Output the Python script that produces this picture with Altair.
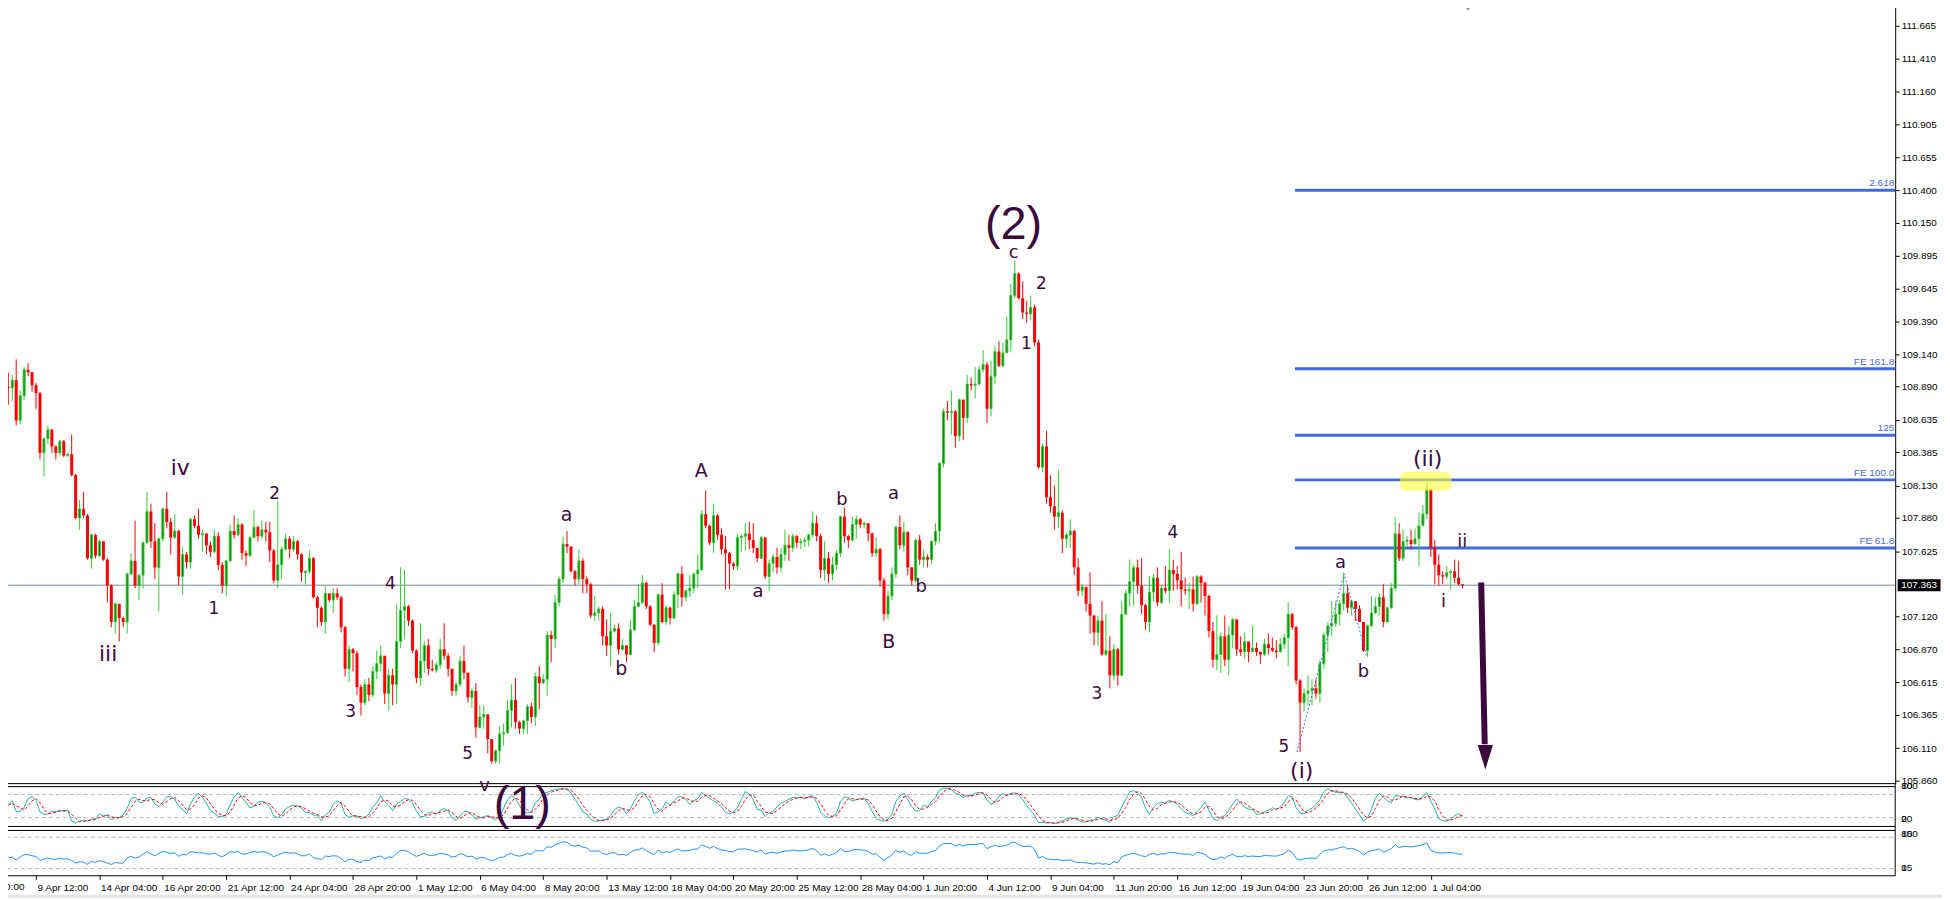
import altair as alt
import numpy as np
import pandas as pd

# ---------------- data (H4 candles) ----------------
OPEN0 = 108.89
CLOSE = [
    108.88, 108.94, 108.63, 108.82, 109.02, 109.00, 108.90, 108.84, 108.38, 108.49,
    108.56, 108.43, 108.38, 108.47, 108.36, 108.37, 108.21, 107.88, 107.95, 107.90,
    107.57, 107.75, 107.59, 107.70, 107.56, 107.36, 107.08, 107.22, 107.11, 107.08,
    107.45, 107.55, 107.36, 107.44, 107.69, 107.93, 107.70, 107.50, 107.72, 107.95,
    107.85, 107.73, 107.78, 107.43, 107.60, 107.54, 107.87, 107.82, 107.75, 107.76,
    107.67, 107.62, 107.74, 107.52, 107.36, 107.55, 107.78, 107.75, 107.83, 107.61,
    107.59, 107.73, 107.81, 107.74, 107.79, 107.77, 107.63, 107.40, 107.52, 107.64,
    107.72, 107.64, 107.70, 107.60, 107.46, 107.47, 107.57, 107.27, 107.19, 107.08,
    107.30, 107.25, 107.30, 107.27, 107.04, 106.72, 106.87, 106.84, 106.58, 106.46,
    106.60, 106.52, 106.70, 106.76, 106.82, 106.53, 106.67, 106.60, 106.93, 107.17,
    107.20, 107.09, 106.86, 106.65, 106.78, 106.90, 106.72, 106.71, 106.75, 106.87,
    106.82, 106.72, 106.55, 106.60, 106.78, 106.69, 106.50, 106.55, 106.27, 106.35,
    106.37, 106.18, 106.01, 106.09, 106.22, 106.23, 106.40, 106.48, 106.31, 106.26,
    106.32, 106.43, 106.35, 106.66, 106.61, 106.64, 106.98, 106.95, 107.23, 107.41,
    107.68, 107.66, 107.47, 107.41, 107.55, 107.41, 107.37, 107.13, 107.15, 107.18,
    106.97, 106.90, 107.01, 107.03, 106.87, 106.90, 106.83, 107.02, 107.20, 107.23,
    107.38, 107.20, 107.06, 106.92, 107.29, 107.08, 107.19, 107.11, 107.29, 107.45,
    107.27, 107.32, 107.34, 107.45, 107.48, 107.91, 107.82, 107.69, 107.90, 107.75,
    107.64, 107.61, 107.53, 107.51, 107.73, 107.74, 107.76, 107.71, 107.65, 107.57,
    107.73, 107.43, 107.53, 107.58, 107.50, 107.60, 107.67, 107.65, 107.74, 107.69,
    107.70, 107.71, 107.75, 107.84, 107.74, 107.48, 107.57, 107.45, 107.52, 107.61,
    107.89, 107.74, 107.71, 107.83, 107.87, 107.83, 107.84, 107.76, 107.61, 107.64,
    107.40, 107.14, 107.28, 107.45, 107.81, 107.67, 107.77, 107.50, 107.40, 107.71,
    107.56, 107.58, 107.56, 107.70, 107.78, 108.30, 108.70, 108.69, 108.70, 108.51,
    108.79, 108.65, 108.91, 108.90, 108.91, 109.02, 109.06, 108.72, 108.97, 109.16,
    109.05, 109.15, 109.25, 109.59, 109.76, 109.57, 109.46, 109.45, 109.50, 109.23,
    108.27, 108.43, 108.04, 107.97, 107.89, 107.92, 107.72, 107.75, 107.78, 107.50,
    107.32, 107.35, 107.22, 107.13, 107.00, 107.09, 106.83, 106.86, 106.67, 106.87,
    106.67, 107.14, 107.30, 107.39, 107.50, 107.36, 107.21, 107.08, 107.31, 107.42,
    107.23, 107.34, 107.32, 107.48, 107.45, 107.40, 107.33, 107.32, 107.33, 107.22,
    107.43, 107.38, 107.28, 107.01, 106.79, 106.83, 106.97, 106.79, 106.98, 107.10,
    106.87, 106.85, 106.93, 106.85, 106.88, 106.85, 106.83, 106.91, 106.88, 106.86,
    106.85, 106.91, 106.96, 107.14, 107.04, 106.63, 106.46, 106.53, 106.55, 106.57,
    106.53, 106.76, 106.98, 107.05, 107.07, 107.14, 107.22, 107.30, 107.19, 107.24,
    107.18, 107.08, 106.86, 107.05, 107.15, 107.20, 107.27, 107.08, 107.19, 107.34,
    107.76, 107.57, 107.70, 107.71, 107.68, 107.72, 107.82, 107.91, 108.10, 107.65,
    107.52, 107.44, 107.43, 107.46, 107.47, 107.42, 107.37, 107.36,
]
HIGH = [
    109.00, 108.98, 109.10, 108.86, 109.04, 109.07, 109.00, 108.92, 108.85, 108.50,
    108.59, 108.56, 108.44, 108.48, 108.48, 108.38, 108.52, 108.22, 108.02, 108.08,
    107.91, 107.76, 107.76, 107.71, 107.70, 107.57, 107.37, 107.23, 107.22, 107.12,
    107.46, 107.61, 107.86, 107.45, 107.70, 108.08, 107.99, 107.84, 107.73, 107.96,
    108.08, 107.88, 107.91, 107.79, 107.66, 107.62, 107.88, 107.90, 107.95, 107.79,
    107.75, 107.70, 107.79, 107.77, 107.54, 107.56, 107.83, 107.90, 107.88, 107.84,
    107.63, 107.74, 107.94, 107.82, 107.86, 107.85, 107.85, 107.64, 108.01, 107.66,
    107.76, 107.74, 107.74, 107.71, 107.61, 107.48, 107.63, 107.58, 107.28, 107.20,
    107.36, 107.30, 107.34, 107.34, 107.28, 107.05, 106.90, 106.88, 106.86, 106.60,
    106.64, 106.65, 106.74, 106.86, 106.90, 106.82, 106.72, 106.72, 107.22, 107.50,
    107.48, 107.21, 107.10, 106.87, 107.07, 106.93, 106.95, 106.79, 106.77, 106.95,
    107.07, 106.84, 106.72, 106.62, 106.82, 106.90, 106.69, 106.57, 106.61, 106.44,
    106.44, 106.37, 106.18, 106.10, 106.28, 106.30, 106.48, 106.60, 106.65, 106.32,
    106.33, 106.45, 106.46, 106.69, 106.74, 106.68, 107.01, 107.01, 107.29, 107.43,
    107.74, 107.78, 107.62, 107.48, 107.64, 107.57, 107.43, 107.38, 107.28, 107.20,
    107.20, 107.10, 107.15, 107.06, 107.07, 106.95, 106.90, 107.10, 107.25, 107.37,
    107.44, 107.39, 107.21, 107.06, 107.30, 107.38, 107.21, 107.20, 107.32, 107.46,
    107.51, 107.33, 107.44, 107.46, 107.60, 107.94, 108.09, 107.83, 107.99, 107.91,
    107.80, 107.74, 107.62, 107.54, 107.76, 107.75, 107.84, 107.85, 107.84, 107.65,
    107.74, 107.73, 107.56, 107.60, 107.65, 107.65, 107.79, 107.75, 107.76, 107.75,
    107.72, 107.73, 107.76, 107.93, 107.90, 107.76, 107.70, 107.62, 107.58, 107.63,
    107.90, 107.96, 107.75, 107.89, 107.90, 107.88, 107.85, 107.82, 107.77, 107.73,
    107.65, 107.42, 107.32, 107.50, 107.82, 107.90, 107.85, 107.78, 107.50, 107.72,
    107.75, 107.64, 107.60, 107.71, 107.84, 108.31, 108.72, 108.78, 108.86, 108.71,
    108.80, 108.79, 108.98, 108.96, 109.04, 109.05, 109.17, 109.08, 109.09, 109.20,
    109.24, 109.23, 109.43, 109.68, 109.86, 109.77, 109.70, 109.55, 109.59, 109.52,
    109.25, 108.45, 108.55, 108.21, 108.13, 108.25, 107.94, 107.77, 107.87, 107.79,
    107.57, 107.37, 107.34, 107.46, 107.09, 107.13, 107.24, 107.14, 106.97, 106.91,
    106.88, 107.24, 107.33, 107.56, 107.52, 107.56, 107.57, 107.22, 107.43, 107.45,
    107.50, 107.36, 107.51, 107.64, 107.56, 107.51, 107.62, 107.42, 107.38, 107.43,
    107.44, 107.44, 107.39, 107.29, 107.08, 107.13, 107.00, 107.13, 107.05, 107.11,
    107.05, 106.97, 107.00, 106.93, 107.05, 106.92, 106.85, 106.95, 106.99, 106.96,
    106.94, 106.96, 106.99, 107.23, 107.15, 107.05, 106.64, 106.57, 106.67, 106.64,
    106.64, 106.79, 107.00, 107.08, 107.24, 107.24, 107.25, 107.46, 107.36, 107.25,
    107.22, 107.21, 107.08, 107.06, 107.28, 107.27, 107.30, 107.37, 107.20, 107.38,
    107.89, 107.84, 107.79, 107.74, 107.79, 107.80, 107.92, 107.98, 108.17, 108.10,
    107.71, 107.60, 107.47, 107.51, 107.48, 107.56, 107.55, 107.37,
]
LOW = [
    108.75, 108.78, 108.59, 108.60, 108.79, 108.97, 108.85, 108.72, 108.33, 108.20,
    108.45, 108.38, 108.33, 108.36, 108.35, 108.35, 108.20, 107.87, 107.79, 107.88,
    107.56, 107.49, 107.57, 107.58, 107.55, 107.23, 107.04, 106.99, 106.93, 107.04,
    106.99, 107.44, 107.34, 107.25, 107.34, 107.68, 107.65, 107.41, 107.16, 107.70,
    107.80, 107.60, 107.72, 107.36, 107.29, 107.49, 107.49, 107.80, 107.72, 107.62,
    107.60, 107.58, 107.61, 107.48, 107.30, 107.28, 107.54, 107.72, 107.74, 107.56,
    107.51, 107.58, 107.72, 107.70, 107.72, 107.70, 107.54, 107.38, 107.34, 107.41,
    107.63, 107.57, 107.62, 107.56, 107.39, 107.37, 107.45, 107.26, 107.04, 107.05,
    106.99, 107.23, 107.15, 107.25, 107.00, 106.66, 106.62, 106.70, 106.52, 106.36,
    106.44, 106.47, 106.50, 106.64, 106.70, 106.45, 106.40, 106.44, 106.45, 106.88,
    106.95, 107.05, 106.84, 106.61, 106.59, 106.69, 106.67, 106.70, 106.69, 106.72,
    106.79, 106.66, 106.51, 106.51, 106.58, 106.64, 106.46, 106.42, 106.19, 106.26,
    106.26, 106.07, 105.99, 105.99, 105.99, 106.13, 106.22, 106.27, 106.26, 106.22,
    106.22, 106.22, 106.30, 106.28, 106.41, 106.61, 106.51, 106.77, 106.88, 107.20,
    107.38, 107.61, 107.46, 107.36, 107.37, 107.30, 107.30, 107.11, 107.09, 107.09,
    106.90, 106.82, 106.74, 107.00, 106.83, 106.86, 106.77, 106.84, 107.01, 107.20,
    107.22, 107.18, 107.05, 106.85, 106.90, 107.07, 107.06, 107.06, 107.10, 107.19,
    107.20, 107.24, 107.27, 107.30, 107.34, 107.47, 107.80, 107.67, 107.61, 107.71,
    107.60, 107.33, 107.33, 107.48, 107.48, 107.62, 107.63, 107.64, 107.61, 107.54,
    107.59, 107.41, 107.32, 107.46, 107.45, 107.46, 107.55, 107.55, 107.62, 107.65,
    107.64, 107.66, 107.66, 107.73, 107.70, 107.42, 107.40, 107.38, 107.40, 107.48,
    107.58, 107.69, 107.65, 107.70, 107.72, 107.80, 107.80, 107.70, 107.58, 107.58,
    107.35, 107.09, 107.10, 107.25, 107.42, 107.64, 107.62, 107.44, 107.36, 107.38,
    107.52, 107.50, 107.50, 107.52, 107.67, 107.69, 108.27, 108.63, 108.52, 108.42,
    108.47, 108.48, 108.61, 108.86, 108.80, 108.90, 109.00, 108.61, 108.66, 108.91,
    109.04, 109.04, 109.15, 109.16, 109.57, 109.56, 109.41, 109.38, 109.40, 109.20,
    108.26, 108.23, 107.99, 107.92, 107.79, 107.80, 107.61, 107.65, 107.65, 107.44,
    107.28, 107.28, 107.16, 106.99, 106.90, 106.90, 106.82, 106.82, 106.57, 106.63,
    106.59, 106.67, 107.14, 107.20, 107.21, 107.30, 107.14, 107.02, 107.00, 107.24,
    107.20, 107.22, 107.30, 107.23, 107.32, 107.33, 107.20, 107.29, 107.18, 107.16,
    107.21, 107.23, 107.13, 106.96, 106.73, 106.71, 106.69, 106.74, 106.67, 106.88,
    106.82, 106.82, 106.80, 106.77, 106.85, 106.82, 106.76, 106.82, 106.83, 106.85,
    106.80, 106.85, 106.87, 106.74, 107.02, 106.60, 106.08, 106.39, 106.44, 106.44,
    106.49, 106.46, 106.72, 106.85, 106.97, 107.04, 107.05, 107.17, 107.15, 107.13,
    107.09, 107.08, 106.85, 106.81, 107.04, 107.14, 107.13, 107.04, 107.08, 107.18,
    107.32, 107.55, 107.55, 107.65, 107.64, 107.68, 107.51, 107.82, 107.87, 107.58,
    107.37, 107.36, 107.37, 107.41, 107.33, 107.38, 107.36, 107.34,
]

TIME_LABELS = ["9 Apr 12:00", "14 Apr 04:00", "16 Apr 20:00", "21 Apr 12:00", "24 Apr 04:00",
               "28 Apr 20:00", "1 May 12:00", "6 May 04:00", "8 May 20:00", "13 May 12:00",
               "18 May 04:00", "20 May 20:00", "25 May 12:00", "28 May 04:00", "1 Jun 20:00",
               "4 Jun 12:00", "9 Jun 04:00", "11 Jun 20:00", "16 Jun 12:00", "19 Jun 04:00",
               "23 Jun 20:00", "26 Jun 12:00", "1 Jul 04:00"]
LEAD_LABEL = "4 Apr 20:00"
FIRST_LABEL_BAR = 7
LABEL_STEP = 16

PRICE_TICKS = [111.665, 111.410, 111.160, 110.905, 110.655, 110.400, 110.150, 109.895,
               109.645, 109.390, 109.140, 108.890, 108.635, 108.385, 108.130, 107.880,
               107.625, 107.120, 106.870, 106.615, 106.365, 106.110, 105.860]
LAST_PRICE = 107.363

FIB_VALUES = [110.401, 109.028, 108.517, 108.173, 107.650]
FIB_NAMES = ["2.618", "FE 161.8", "125", "FE 100.0", "FE 61.8"]
FIB_START_BAR = 324.7

SMALL_TEXT = ["iii", "iv", "1", "2", "4", "3", "5", "v", "a", "b", "A", "a", "b", "a", "B", "b",
              "c", "2", "1", "3", "4", "5", "(i)", "a", "b", "(ii)", "ii", "i"]
SMALL_BAR = [25.2, 43.4, 51.9, 67.2, 96.4, 86.4, 115.9, 120.2, 140.9, 154.7, 174.9, 189.2,
             210.4, 223.4, 222.2, 230.4, 253.7, 260.7, 256.9, 274.7, 293.9, 321.9, 326.4,
             336.2, 342.0, 358.2, 366.9, 362.2]
SMALL_PRICE = [106.833, 108.265, 107.178, 108.066, 107.369, 106.389, 106.067, 105.822,
               107.905, 106.718, 108.242, 107.308, 108.020, 108.066, 106.925, 107.346,
               109.919, 109.682, 109.215, 106.527, 107.767, 106.121, 105.937, 107.537,
               106.695, 108.334, 107.698, 107.231]
SMALL_SIZE = [22, 22, 17, 17, 17, 17, 17, 18, 19, 19, 19, 18, 18, 18, 19, 18, 18, 17, 17,
              17, 17, 17, 22, 18, 18, 22, 18, 18]
BIG_TEXT = ["(1)", "(2)"]
BIG_BAR = [129.7, 253.7]
BIG_PRICE = [105.676, 110.134]

DOTTED_BAR = [325.2, 337.1, 342.9]
DOTTED_PRICE = [106.08, 107.45, 106.81]
HILITE_BAR = [351.2, 364.2]
HILITE_PRICE = [108.089, 108.234]
ARROW_BAR = [371.7, 372.6]
ARROW_PRICE = [107.384, 106.14]
ARROW_HEAD_BAR = 372.75
ARROW_HEAD_PRICE = 106.04

STOCH_LEVELS = [80, 20]
LOWER_LEVELS = [85, 15]

# ---------------- styling / layout ----------------
W, H = 1903, 877
MAIN_BOTTOM = 785
P_TOP, P_BOT = 111.849, 105.837
GREEN, GREEN_DARK, RED = "#32cd32", "#0e7a0e", "#ff0000"
PURPLE = "#3b0b3d"
BLUE = "#4169e1"
FONT_AX = "Liberation Sans"

n = len(CLOSE)
OPEN = [OPEN0] + CLOSE[:-1]
o = np.array(OPEN, float)
c = np.array(CLOSE, float)
h = np.maximum(np.array(HIGH, float), np.maximum(o, c))
l = np.minimum(np.array(LOW, float), np.minimum(o, c))
top = np.maximum(o, c)
bot = np.minimum(o, c)
top = np.where(top - bot < 0.009, bot + 0.009, top)
candles = pd.DataFrame(dict(i=np.arange(n), open=o, close=c, high=h, low=l, top=top, bot=bot,
                            dir=np.where(c >= o, "up", "down")))

# Stochastic (5,3,3) and RSI(14) derived from the candles
K = []
for t in range(n):
    num = den = 0.0
    for s in range(max(0, t - 2), t + 1):
        lo = l[max(0, s - 4):s + 1].min()
        hi = h[max(0, s - 4):s + 1].max()
        num += c[s] - lo
        den += hi - lo
    K.append(100 * num / den if den > 0 else 50)
D = [float(np.mean(K[max(0, t - 2):t + 1])) for t in range(n)]
diff = np.diff(c, prepend=OPEN0)
gains = np.clip(diff, 0, None)
losses = np.clip(-diff, 0, None)
ag = float(gains[:14].mean())
al = float(losses[:14].mean())
RSI = []
for t in range(n):
    ag = (ag * 13 + gains[t]) / 14
    al = (al * 13 + losses[t]) / 14
    RSI.append(100 - 100 / (1 + ag / al) if al > 0 else 100)
ind = pd.DataFrame(dict(i=np.arange(n), k=K, d=D, rsi=RSI))

# ---------------- scales & axes ----------------
xs = alt.Scale(domain=[-0.825, 474.925], nice=False, zero=False)
ys = alt.Scale(domain=[P_BOT, P_TOP], range=[MAIN_BOTTOM, 0], nice=False, zero=False)
ysto = alt.Scale(domain=[0, 100], range=[826.7, 788.3], nice=False, zero=False)
ylow = alt.Scale(domain=[0, 100], range=[877, 832], nice=False, zero=False)

tick_bars = [FIRST_LABEL_BAR + LABEL_STEP * j for j in range(len(TIME_LABELS))]
labels_js = "[" + ",".join("'%s'" % s for s in TIME_LABELS) + "]"
xaxis = alt.Axis(orient="bottom", values=tick_bars,
                 labelExpr="%s[round((datum.value-%d)/%d)]" % (labels_js, FIRST_LABEL_BAR, LABEL_STEP),
                 labelAlign="left", labelBaseline="top", labelPadding=3, labelOffset=1,
                 labelFont=FONT_AX, labelFontSize=10, labelColor="#000000",
                 tickColor="#000000", tickSize=4, domainColor="#000000", grid=False,
                 title=None, labelOverlap=False, labelFlush=False)
yaxis = alt.Axis(orient="right", values=PRICE_TICKS, format=".3f", labelFont=FONT_AX,
                 labelFontSize=10, labelColor="#000000", labelPadding=2, tickColor="#000000",
                 tickSize=4, domainColor="#000000", grid=False, title=None,
                 labelOverlap=False, labelFlush=False)


def X(field):
    return alt.X(field + ":Q", scale=xs, axis=xaxis, title=None)


def YM(field, axis=None):
    return alt.Y(field + ":Q", scale=ys, axis=axis, title=None)


one = pd.DataFrame({"a": [0]})
layers = []

# frames
for yv in [4, MAIN_BOTTOM, MAIN_BOTTOM + 3, 828, 832]:
    layers.append(alt.Chart(one).mark_rule(color="#000000", strokeWidth=1).encode(
        x=alt.value(0), x2=alt.value(W), y=alt.value(yv)))
layers.append(alt.Chart(one).mark_rule(color="#000000", strokeWidth=1).encode(
    x=alt.value(W), y=alt.value(MAIN_BOTTOM), y2=alt.value(H)))
layers.append(alt.Chart(one).mark_rule(color="#e4e4e4", strokeWidth=3).encode(
    x=alt.value(0), x2=alt.value(W + 60), y=alt.value(H + 21)))

# fib lines + labels
fib = pd.DataFrame(dict(v=FIB_VALUES, name=FIB_NAMES, i=[FIB_START_BAR] * len(FIB_VALUES)))
layers.append(alt.Chart(fib).mark_rule(color=BLUE, strokeWidth=3).encode(
    x=X("i"), x2=alt.value(W), y=YM("v")))
layers.append(alt.Chart(fib).mark_text(align="right", baseline="bottom", dy=-2, font=FONT_AX,
                                       fontSize=10, color=BLUE).encode(
    x=alt.value(W - 1), y=YM("v"), text="name:N"))

# last price line
lp = pd.DataFrame(dict(v=[LAST_PRICE], t=["%.3f" % LAST_PRICE]))
layers.append(alt.Chart(lp).mark_rule(color="#7a8a9a", strokeWidth=1).encode(
    x=alt.value(0), x2=alt.value(W), y=YM("v")))

# candles
layers.append(alt.Chart(candles).mark_rule(strokeWidth=1).encode(
    x=X("i"), y=YM("low", yaxis), y2="high:Q",
    color=alt.Color("dir:N", scale=alt.Scale(domain=["up", "down"], range=[GREEN, RED]), legend=None)))
layers.append(alt.Chart(candles).transform_filter("datum.dir == 'up'").mark_bar(
    size=2, fill=GREEN_DARK, stroke=GREEN, strokeWidth=1).encode(
    x=X("i"), y=YM("bot"), y2="top:Q"))
layers.append(alt.Chart(candles).transform_filter("datum.dir == 'down'").mark_bar(
    size=3, color=RED).encode(x=X("i"), y=YM("bot"), y2="top:Q"))

# dotted wave line
dot = pd.DataFrame(dict(i=DOTTED_BAR, p=DOTTED_PRICE))
layers.append(alt.Chart(dot).mark_line(color=BLUE, strokeWidth=1, strokeDash=[2, 2]).encode(
    x=X("i"), y=YM("p")))

# indicator panels
lv = pd.DataFrame(dict(v=STOCH_LEVELS))
layers.append(alt.Chart(lv).mark_rule(color="#b8b8b8", strokeDash=[4, 3], strokeWidth=1).encode(
    x=alt.value(0), x2=alt.value(W), y=alt.Y("v:Q", scale=ysto, axis=None)))
lv2 = pd.DataFrame(dict(v=LOWER_LEVELS))
layers.append(alt.Chart(lv2).mark_rule(color="#b8b8b8", strokeDash=[4, 3], strokeWidth=1).encode(
    x=alt.value(0), x2=alt.value(W), y=alt.Y("v:Q", scale=ylow, axis=None)))
layers.append(alt.Chart(ind).mark_line(color="#20b2aa", strokeWidth=1).encode(
    x=X("i"), y=alt.Y("k:Q", scale=ysto, axis=None)))
layers.append(alt.Chart(ind).mark_line(color="#ff0000", strokeWidth=1, strokeDash=[3, 2]).encode(
    x=X("i"), y=alt.Y("d:Q", scale=ysto, axis=None)))
layers.append(alt.Chart(ind).mark_line(color="#1e90ff", strokeWidth=1).encode(
    x=X("i"), y=alt.Y("rsi:Q", scale=ylow, axis=None)))

# panel side labels
for txt, yv in [("100", 787), ("80", 787), ("20", 821), ("0", 821),
                ("100", 836), ("85", 836), ("15", 870), ("0", 870)]:
    layers.append(alt.Chart(one).mark_text(align="left", baseline="middle", font=FONT_AX,
                                           fontSize=10, color="#000000", text=txt).encode(
        x=alt.value(W + 6), y=alt.value(yv)))

# leading, partly hidden time label
lead = pd.DataFrame(dict(i=[FIRST_LABEL_BAR - LABEL_STEP], t=[LEAD_LABEL]))
layers.append(alt.Chart(lead).mark_text(align="left", baseline="top", font=FONT_AX, fontSize=10,
                                        color="#000000", dx=1).encode(
    x=X("i"), y=alt.value(H + 7), text="t:N"))

# wave labels
sm = pd.DataFrame(dict(t=SMALL_TEXT, i=SMALL_BAR, p=SMALL_PRICE, s=SMALL_SIZE))
layers.append(alt.Chart(sm).mark_text(font="DejaVu Sans", color=PURPLE).encode(
    x=X("i"), y=YM("p"), text="t:N", size=alt.Size("s:Q", scale=None)))
bg = pd.DataFrame(dict(t=BIG_TEXT, i=BIG_BAR, p=BIG_PRICE))
layers.append(alt.Chart(bg).mark_text(font="Liberation Sans", fontSize=47, color=PURPLE).encode(
    x=X("i"), y=YM("p"), text="t:N"))

# highlight box
hl = pd.DataFrame(dict(i0=[HILITE_BAR[0]], i1=[HILITE_BAR[1]], p0=[HILITE_PRICE[0]], p1=[HILITE_PRICE[1]]))
layers.append(alt.Chart(hl).mark_rect(color="#ffff33", opacity=0.6, cornerRadius=7).encode(
    x=X("i0"), x2="i1:Q", y=YM("p0"), y2="p1:Q"))

# arrow
ar = pd.DataFrame(dict(i=ARROW_BAR, p=ARROW_PRICE))
layers.append(alt.Chart(ar).mark_line(color=PURPLE, strokeWidth=6, strokeCap="butt").encode(
    x=X("i"), y=YM("p")))
ah = pd.DataFrame(dict(i=[ARROW_HEAD_BAR], p=[ARROW_HEAD_PRICE]))
layers.append(alt.Chart(ah).mark_point(shape="M-0.62,-1L0.62,-1L0,1Z", size=600, filled=True,
                                       color=PURPLE, opacity=1, strokeWidth=0).encode(
    x=X("i"), y=YM("p")))

# last price box on the axis
layers.append(alt.Chart(lp).mark_rect(color="#000000", width=43, height=12).encode(
    x=alt.value(W + 24), y=YM("v")))
layers.append(alt.Chart(lp).mark_text(color="#ffffff", font=FONT_AX, fontSize=10,
                                      align="center", baseline="middle").encode(
    x=alt.value(W + 24), y=YM("v"), text="t:N"))

# chart shift marker
layers.append(alt.Chart(one).mark_point(shape="triangle-down", filled=True, color="#7f7f7f",
                                        size=45, opacity=1).encode(
    x=alt.value(1474), y=alt.value(6)))

chart = alt.layer(*layers).resolve_scale(y="independent", color="independent").properties(
    width=W, height=H,
    padding={"left": -8, "top": -8, "right": 47, "bottom": 22},
    autosize=alt.AutoSizeParams(type="none"),
    background="white",
).configure_view(stroke=None)

chart.save("out.html", embed_options={"renderer": "svg", "actions": False})
